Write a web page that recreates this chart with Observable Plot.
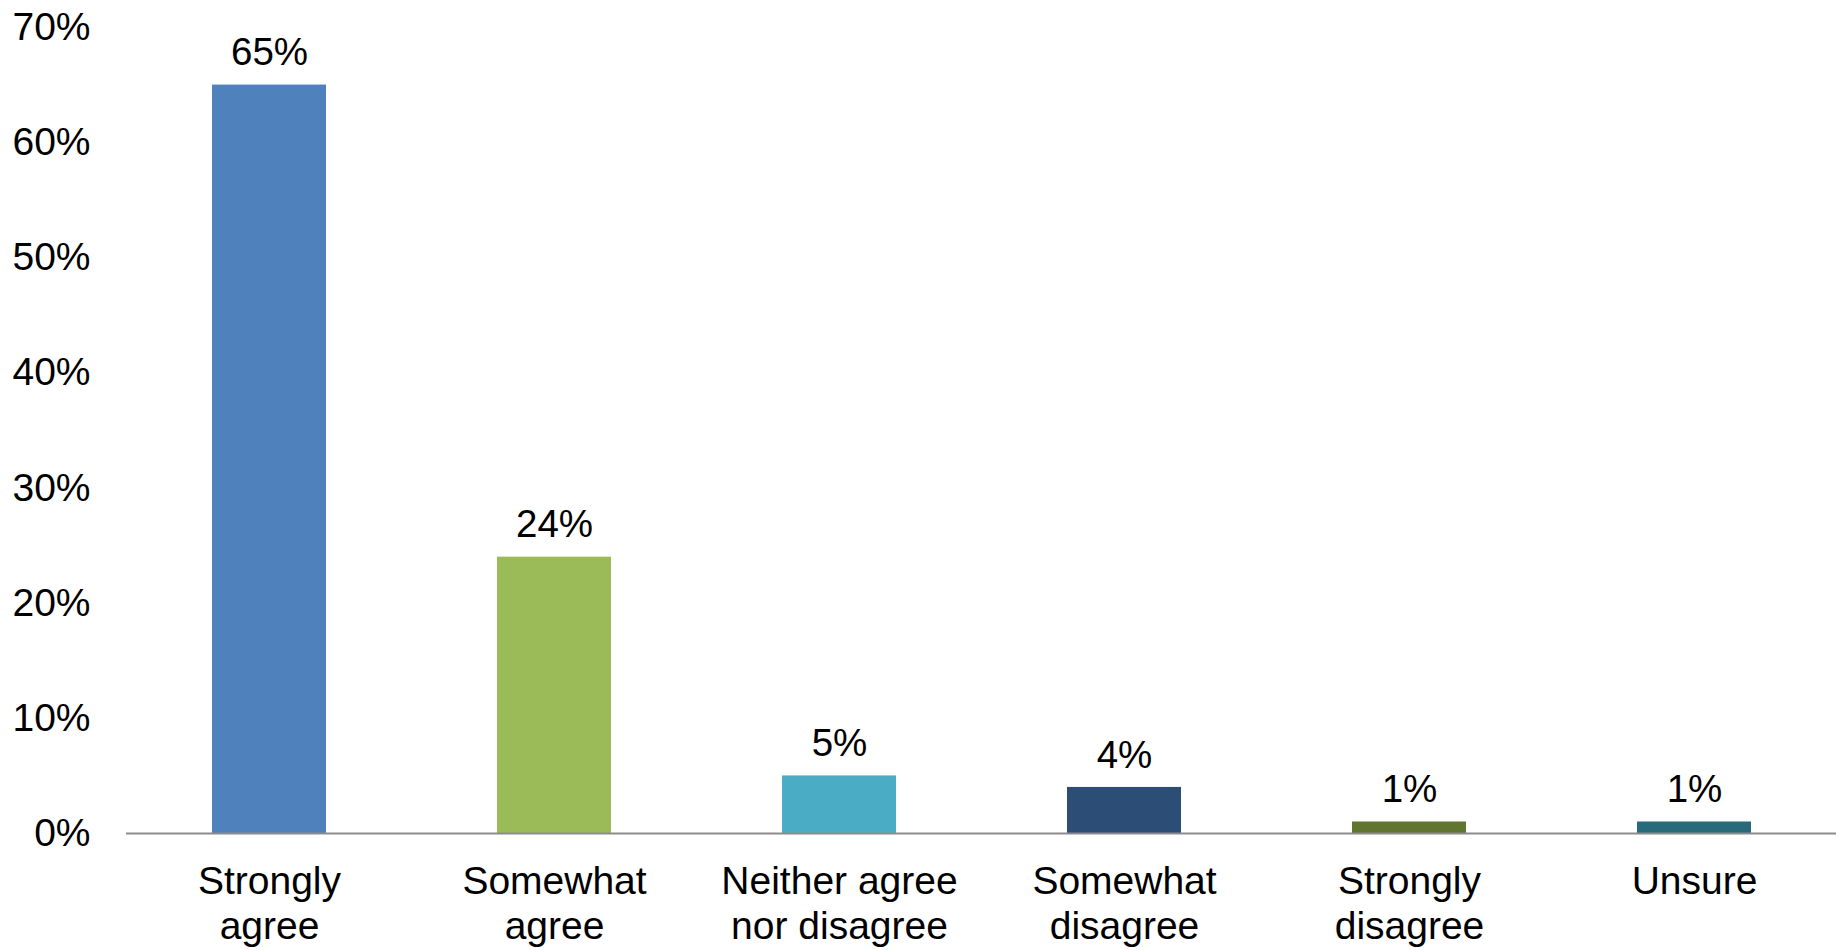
<!DOCTYPE html>
<html>
<head>
<meta charset="utf-8">
<script src="https://cdn.jsdelivr.net/npm/d3@7"></script>
<script src="https://cdn.jsdelivr.net/npm/@observablehq/plot@0.6"></script>
<style>
  html, body { margin: 0; padding: 0; background: #fff; }
  #chart svg { display: block; }
</style>
</head>
<body>
<div id="chart"></div>
<script>
const categories = ["Strongly\nagree", "Somewhat\nagree", "Neither agree\nnor disagree", "Somewhat\ndisagree", "Strongly\ndisagree", "Unsure"];
const values = [65, 24, 5, 4, 1, 1];
const colors = ["#4F81BD", "#9BBB59", "#4BACC6", "#2C4D75", "#5F7530", "#276A7C"];
const yTicks = [0, 10, 20, 30, 40, 50, 60, 70];

const data = categories.map((c, i) => ({category: c, value: values[i], color: colors[i]}));

const chart = Plot.plot({
  width: 1839,
  height: 950,
  marginLeft: 126,
  marginRight: 3,
  marginTop: 27,
  marginBottom: 117,
  style: {fontFamily: "'Liberation Sans', Arial, sans-serif", color: "#000", background: "#fff"},
  x: {domain: categories, paddingInner: 0.6, paddingOuter: 0.3, label: null},
  y: {domain: [0, 70], label: null},
  marks: [
    Plot.barY(data, {x: "category", y: "value", fill: "color"}),
    Plot.ruleY([0], {stroke: "#8c8c8c", strokeWidth: 2}),
    Plot.text(data, {x: "category", y: "value", text: d => d.value + "%", dy: -32, fontSize: 38.5, fill: "#000"}),
    Plot.axisY({ticks: yTicks, tickSize: 0, tickPadding: 36, fontSize: 39, tickFormat: d => d + "%", label: null, fill: "#000"}),
    Plot.axisX({tickSize: 0, tickPadding: 29, fontSize: 39, lineHeight: 1.15, label: null, fill: "#000"})
  ]
});
document.getElementById("chart").appendChild(chart);
</script>
</body>
</html>
